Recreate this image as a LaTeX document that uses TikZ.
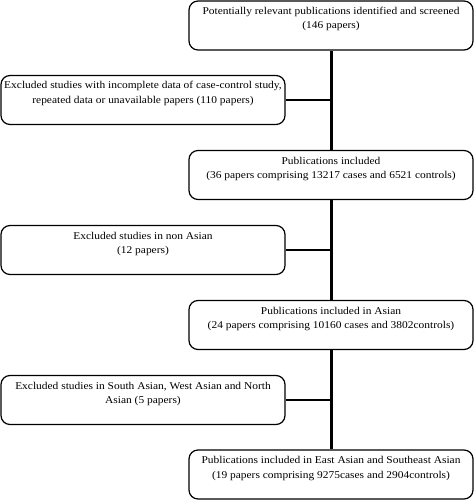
\documentclass[tikz,border=0pt]{standalone}
\usepackage{fontspec}
\setmainfont{Liberation Serif}[FakeStretch=1.1]
\newcommand\boxtext[1]{\parbox[c][49pt][t]{284pt}{\centering\fontsize{10.4}{14.5}\selectfont\rule{0pt}{13.5pt}#1\par}}
\begin{document}
\begin{tikzpicture}[x=1pt,y=-1pt,
  box/.style={draw, rounded corners=9pt, line width=1.2pt, inner sep=0pt},
  vline/.style={line width=3pt},
  hline/.style={line width=2.4pt}]
\useasboundingbox (0,0) rectangle (474,500);
\node[box] (b1) at (331,25.5) {\boxtext{Potentially relevant publications identified and screened\\(146 papers)}};
\node[box] (l1) at (143,100) {\boxtext{Excluded studies with incomplete data of case-control study,\\repeated data or unavailable papers (110 papers)}};
\node[box] (b2) at (331,175) {\boxtext{Publications included\\(36 papers comprising 13217 cases and 6521 controls)}};
\node[box] (l2) at (143,250) {\boxtext{Excluded studies in non Asian\\(12 papers)}};
\node[box] (b3) at (331,325) {\boxtext{Publications included in Asian\\(24 papers comprising 10160 cases and 3802controls)}};
\node[box] (l3) at (143,400) {\boxtext{Excluded studies in South Asian, West Asian and North\\Asian (5 papers)}};
\node[box] (b4) at (331,474.5) {\boxtext{Publications included in East Asian and Southeast Asian\\(19 papers comprising 9275cases and 2904controls)}};
\draw[vline] (b1.south) -- (b2.north);
\draw[vline] (b2.south) -- (b3.north);
\draw[vline] (b3.south) -- (b4.north);
\draw[hline] (l1.east) -- (l1.east -| b1.south);
\draw[hline] (l2.east) -- (l2.east -| b2.south);
\draw[hline] (l3.east) -- (l3.east -| b3.south);
\end{tikzpicture}
\end{document}
